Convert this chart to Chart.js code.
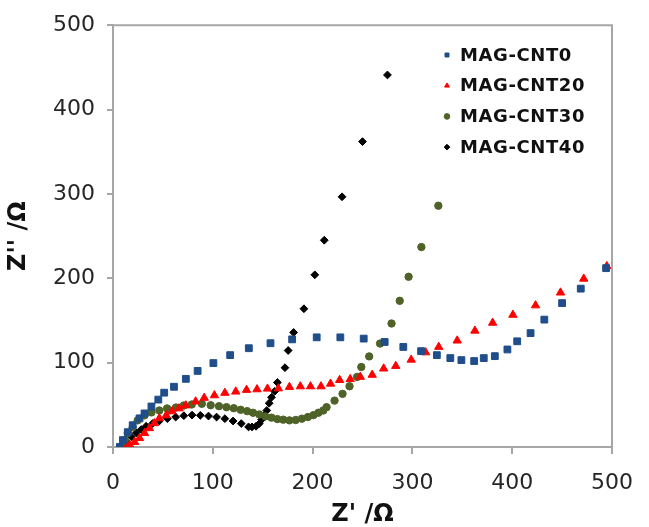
<!DOCTYPE html>
<html>
<head>
<meta charset="utf-8">
<script src="https://cdn.jsdelivr.net/npm/chart.js@4/dist/chart.umd.min.js"></script>
<style>
html,body{margin:0;padding:0;background:#fff;}
#wrap{width:649px;height:527px;position:relative;}
</style>
</head>
<body>
<div id="wrap"><canvas id="c" width="649" height="527"></canvas></div>
<script>
// Series names
const seriesNames = ["MAG-CNT0", "MAG-CNT20", "MAG-CNT30", "MAG-CNT40"];
// Axis ticks
const xTicks = [0, 100, 200, 300, 400, 500];
const yTicks = [0, 100, 200, 300, 400, 500];

// MAG-CNT0 : [Z', Z'']
const cnt0 = [[6.9,0],[9.9,8.2],[14.8,17.6],[19.7,25.8],[26.6,34],[31.6,39.8],[38.5,48],[45.4,56.2],[51.3,64.4],[61.1,71.4],[73,80.8],[84.8,90.2],[100.6,99.5],[117.4,108.9],[136.1,117.1],[157.8,123],[179.5,127.6],[204.1,130],[227.8,130],[251.2,128.5],[272.2,124.5],[290.9,118.6],[308.7,113.6],[324.5,108.9],[338,105.4],[349.1,103],[361.9,101.9],[371.5,105.4],[382.6,107.7],[395.2,115.6],[405,125.3],[418.4,135],[432.2,151],[450,170.6],[468.7,187.7],[494.1,212]];
// MAG-CNT20
const cnt20 = [[13.8,0],[16.8,2.3],[21.7,5.9],[26.6,10.5],[31.6,16.4],[36.5,22.2],[41.4,28.1],[46.4,34],[53.3,37.5],[59.2,42.2],[66.1,45.7],[73,49.2],[82.8,53.9],[91.4,58.2],[101.6,61.2],[112.1,64.1],[123,65.6],[133.8,67.6],[144.3,68.3],[154.8,69.1],[165.7,69.4],[176.8,71.1],[187.7,71.8],[197.9,71.8],[208.4,71.8],[218,75],[227.1,79.3],[237.7,80.4],[247.8,83.1],[259.7,85.5],[271.2,92.9],[283.3,96],[298.8,103.4],[313.3,112.1],[326.4,118.6],[344.9,126.1],[362.6,137.8],[380.4,147.2],[400.7,156.6],[423.4,167.8],[448.4,183],[471.7,199.4],[494.8,214.3]];
// MAG-CNT30
const cnt30 = [[8.6,0.4],[11.8,8.2],[14.8,16.4],[19.7,23.4],[24.7,31.6],[31.6,37.5],[38.5,41],[46.4,43.3],[54.2,45.7],[63.1,46.8],[71,49.2],[78.9,50.4],[89,51.2],[97.9,49.5],[106.2,48.4],[113.7,47.2],[121,46],[127.9,44.1],[134.4,42.5],[140.3,40.6],[146.6,38.6],[152.6,36.3],[158.8,34.8],[164.7,33.1],[170.6,32.4],[176.8,31.6],[183.1,32],[189.3,33.6],[195.3,35.5],[200.9,37.8],[205.8,40.6],[210.7,43.3],[214,47.2],[222,55],[230,63],[237,72],[244.6,83.1],[248.8,94.8],[256.7,107.4],[267.6,122.6],[279.1,146.4],[287.3,173.3],[296.2,201.8],[309,237],[326,286]];
// MAG-CNT40
const cnt40 = [[9.9,0.4],[13.5,6.2],[18.4,12.1],[23.4,16.7],[28.3,20.7],[33.2,24.6],[39.7,27.8],[46.4,30.8],[54.5,33.6],[62.8,35.5],[71,37.1],[79.2,37.8],[87.5,37.5],[95.7,36.7],[103.8,35.5],[112.1,33.6],[120.3,30.8],[128.5,27.8],[135.8,23.8],[139.3,23.8],[143.3,24.6],[146.6,27.8],[148.9,32.4],[151.6,37.5],[154.1,43.3],[156.5,51.9],[158.8,58.9],[162,65.9],[164.7,76.5],[172.3,94],[175.5,114.4],[181,135.8],[191.3,163.9],[202.2,204.1],[211.7,245.1],[229.5,296.6],[250,362],[275,441]];

const colors = ["#1F4E8A", "#FF0000", "#4F6228", "#000000"];
const styles = ["rect", "triangle", "circle", "rectRot"];
const radii = [4.8, 4.8, 3.7, 3.9];
const allSeries = [cnt0, cnt20, cnt30, cnt40];

const datasets = allSeries.map((s, i) => ({
  label: seriesNames[i],
  data: s.map(p => ({x: p[0], y: p[1]})),
  showLine: false,
  pointStyle: styles[i],
  pointRadius: radii[i],
  pointHoverRadius: radii[i],
  pointBackgroundColor: colors[i],
  pointBorderColor: colors[i],
  pointBorderWidth: 1,
  backgroundColor: colors[i],
  borderColor: colors[i]
}));

const FONT = "'DejaVu Sans', Verdana, sans-serif";
const AXIS = "#A6A6A6";

const legendPlugin = {
  id: 'customLegend',
  afterDraw(chart) {
    const ctx = chart.ctx;
    ctx.save();
    const x0 = 447, y0 = 55, dy = 30.7;
    chart.data.datasets.forEach((ds, i) => {
      const y = y0 + i * dy;
      ctx.fillStyle = ds.pointBackgroundColor;
      ctx.strokeStyle = ds.pointBorderColor;
      ctx.lineWidth = 1;
      Chart.helpers.drawPoint(ctx, {pointStyle: ds.pointStyle, radius: 2.8, rotation: 0, borderWidth: 1}, x0, y);
      ctx.fillStyle = "#111";
      ctx.font = "bold 18px " + FONT;
      try { ctx.letterSpacing = "0.6px"; } catch (e) {}
      ctx.textBaseline = "middle";
      ctx.textAlign = "left";
      ctx.fillText(ds.label, x0 + 13, y + 1);
    });
    ctx.restore();
  }
};

const borderPlugin = {
  id: 'plotBorder',
  beforeDatasetsDraw(chart) {
    const a = chart.chartArea, ctx = chart.ctx;
    ctx.save();
    ctx.strokeStyle = AXIS;
    ctx.lineWidth = 2;
    ctx.beginPath();
    ctx.moveTo(a.left, a.top); ctx.lineTo(a.right, a.top); ctx.lineTo(a.right, a.bottom);
    ctx.stroke();
    ctx.restore();
  }
};

new Chart(document.getElementById('c'), {
  type: 'scatter',
  data: { datasets },
  options: {
    responsive: false,
    animation: false,
    devicePixelRatio: 1,
    layout: { padding: { left: 0, right: 28, top: 20, bottom: 0 } },
    plugins: { legend: { display: false }, tooltip: { enabled: false } },
    scales: {
      x: {
        type: 'linear', min: 0, max: 500,
        afterBuildTicks(s) { s.ticks = xTicks.map(v => ({value: v})); },
        afterFit(s) { s.height = 80; },
        ticks: { font: { family: FONT, size: 22 }, color: "#262626", padding: 16 },
        grid: { drawOnChartArea: false, drawTicks: true, tickLength: 7, color: AXIS, lineWidth: 2 },
        border: { color: AXIS, width: 2 },
        title: { display: true, text: "Z' /Ω", font: { family: FONT, size: 24, weight: 'bold' }, color: "#111", padding: { top: 0, bottom: -2 } }
      },
      y: {
        type: 'linear', min: 0, max: 500,
        afterBuildTicks(s) { s.ticks = yTicks.map(v => ({value: v})); },
        afterFit(s) { s.width = 113; },
        ticks: { font: { family: FONT, size: 22 }, color: "#262626", padding: 12 },
        grid: { drawOnChartArea: false, drawTicks: true, tickLength: 6, color: AXIS, lineWidth: 2 },
        border: { color: AXIS, width: 2 },
        title: { display: true, text: "Z'' /Ω", font: { family: FONT, size: 24, weight: 'bold' }, color: "#111", padding: { top: 4, bottom: 0 } }
      }
    }
  },
  plugins: [borderPlugin, legendPlugin]
});
</script>
</body>
</html>
